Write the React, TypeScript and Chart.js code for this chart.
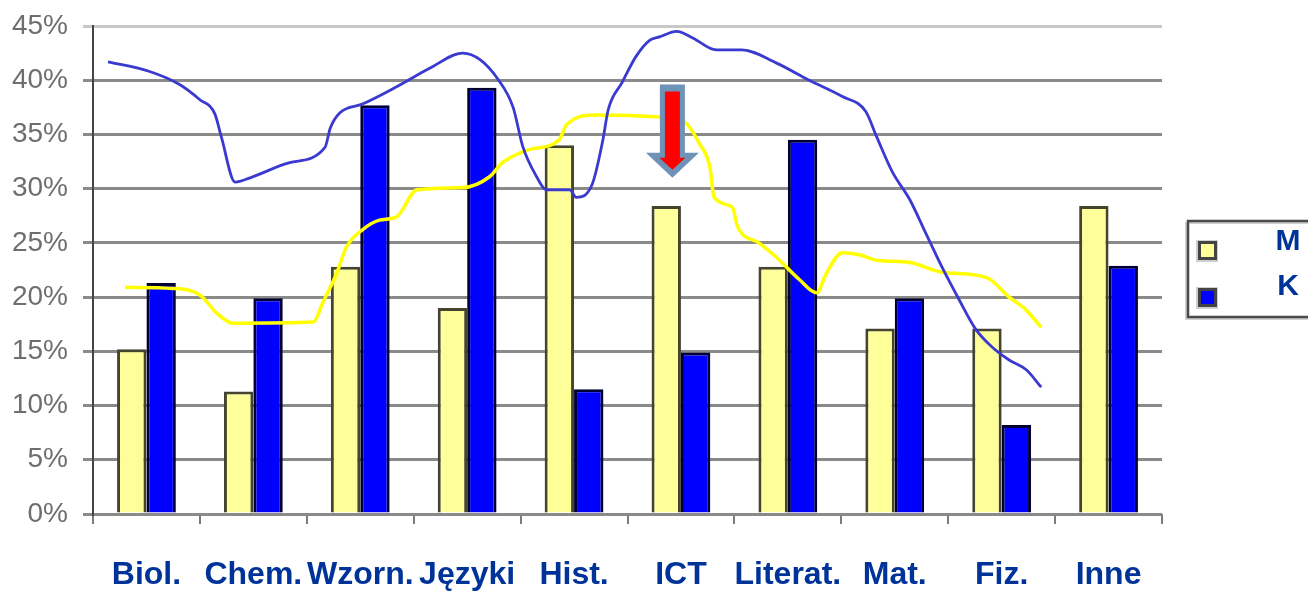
import React, { useEffect, useRef } from 'react';
import { Chart, registerables } from 'chart.js';

Chart.register(...registerables);

// ---- data ----
const CATEGORIES = ['Biol.', 'Chem.', 'Wzorn.', 'Języki', 'Hist.', 'ICT', 'Literat.', 'Mat.', 'Fiz.', 'Inne'];
const SERIES_LABELS = ['M', 'K'];
const SERIES_M = [15.2, 11.3, 22.8, 19.0, 34.0, 28.4, 22.8, 17.1, 17.1, 28.4];
const SERIES_K = [21.3, 19.9, 37.7, 39.3, 11.5, 14.9, 34.5, 19.9, 8.2, 22.9];
const Y_MIN = 0;
const Y_MAX = 45;
const Y_STEP = 5;

// hand-drawn trend curves (x in category units from the left edge, y in %)
const TREND_K_X = [0.14, 0.53, 0.81, 1.0, 1.14, 1.2, 1.33, 1.47, 1.84, 2.17, 2.22, 2.31, 2.52, 2.84, 3.15, 3.46, 3.62, 3.78, 3.93, 4.02, 4.15, 4.24, 4.46, 4.52, 4.67, 4.77, 4.82, 4.95, 5.08, 5.21, 5.3, 5.46, 5.61, 5.83, 6.07, 6.39, 6.7, 7.01, 7.23, 7.33, 7.48, 7.64, 7.79, 7.94, 8.1, 8.26, 8.41, 8.57, 8.73, 8.87];
const TREND_K_Y = [41.7, 40.8, 39.6, 38.2, 36.9, 34.8, 30.6, 31.0, 32.4, 33.8, 35.6, 37.0, 37.8, 39.4, 41.1, 42.5, 41.9, 40.2, 37.5, 33.9, 31.1, 29.9, 29.9, 29.2, 30.4, 34.5, 37.3, 39.8, 42.2, 43.7, 44.0, 44.5, 43.9, 42.8, 42.8, 41.6, 40.0, 38.5, 37.1, 34.8, 31.5, 29.0, 25.9, 22.8, 19.8, 17.0, 15.4, 14.2, 13.3, 11.7];
const TREND_M_X = [0.3, 0.75, 1.0, 1.16, 1.31, 2.06, 2.15, 2.28, 2.37, 2.52, 2.68, 2.84, 3.03, 3.46, 3.71, 3.83, 4.08, 4.36, 4.43, 4.71, 5.3, 5.54, 5.67, 5.77, 5.81, 5.98, 6.03, 6.23, 6.39, 6.61, 6.77, 6.86, 7.01, 7.17, 7.33, 7.64, 7.94, 8.36, 8.57, 8.73, 8.87];
const TREND_M_Y = [20.9, 20.8, 20.2, 18.5, 17.6, 17.7, 19.5, 22.2, 24.6, 26.2, 27.1, 27.4, 29.9, 30.1, 31.1, 32.4, 33.6, 34.5, 35.9, 36.8, 36.6, 36.1, 34.2, 32.0, 29.2, 28.3, 26.5, 25.0, 23.7, 21.6, 20.4, 22.2, 24.1, 23.9, 23.4, 23.2, 22.3, 21.8, 20.0, 18.8, 17.2];

// down arrow annotation (x in category units, y in %)
const ARROW = { x: 5.42, top: 39.6, tip: 31.0 };

const COLOR_M = '#ffff99';
const COLOR_K = '#0000ff';
const LABEL_BLUE = '#003399';
const FONT = "'Liberation Sans', Arial, sans-serif";
const W = 1308;
const H = 591;

const PAD = { top: 26, right: 146, left: 93, bottom: 77 };

const arrowPlugin = {
  id: 'arrowAnnot',
  afterDatasetsDraw(chart: any) {
    const xs = chart.scales.x;
    const ys = chart.scales.y;
    const ctx = chart.ctx;
    const cx = xs.getPixelForValue(ARROW.x);
    const top = ys.getPixelForValue(ARROW.top);
    const tip = ys.getPixelForValue(ARROW.tip);
    const poly = (shaftHalf: number, headHalf: number, t: number, headTop: number, tp: number, color: string) => {
      ctx.beginPath();
      ctx.moveTo(cx - shaftHalf, t);
      ctx.lineTo(cx + shaftHalf, t);
      ctx.lineTo(cx + shaftHalf, headTop);
      ctx.lineTo(cx + headHalf, headTop);
      ctx.lineTo(cx, tp);
      ctx.lineTo(cx - headHalf, headTop);
      ctx.lineTo(cx - shaftHalf, headTop);
      ctx.closePath();
      ctx.fillStyle = color;
      ctx.fill();
    };
    ctx.save();
    poly(12.5, 26.5, top, tip - 25, tip, '#6f93b8');
    poly(7.5, 13, top + 7, tip - 20, tip - 8, '#ff0000');
    ctx.restore();
  },
};

const legendPlugin = {
  id: 'boxLegend',
  afterDraw(chart: any) {
    const ctx = chart.ctx;
    const area = chart.chartArea;
    const left = area.right + 26;
    const top = area.top + 195;
    ctx.save();
    ctx.strokeStyle = '#d0d0d0';
    ctx.lineWidth = 2;
    ctx.strokeRect(left - 2, top + 2, 160, 96);
    ctx.strokeStyle = '#4a4a4a';
    ctx.lineWidth = 2.5;
    ctx.strokeRect(left, top, 160, 96);
    const items = [
      { label: chart.data.datasets[0].label, color: COLOR_M, sy: top + 20, ty: top + 21 },
      { label: chart.data.datasets[1].label, color: COLOR_K, sy: top + 67, ty: top + 66 },
    ];
    items.forEach((it) => {
      ctx.fillStyle = '#cfcfcf';
      ctx.fillRect(left + 8, it.sy - 1, 22, 22);
      ctx.fillStyle = '#444';
      ctx.fillRect(left + 10, it.sy, 19, 19);
      ctx.fillStyle = it.color;
      ctx.fillRect(left + 13, it.sy + 3, 13, 13);
      ctx.fillStyle = LABEL_BLUE;
      ctx.font = `bold 30px ${FONT}`;
      ctx.textAlign = 'center';
      ctx.textBaseline = 'middle';
      ctx.fillText(it.label, left + 100, it.ty);
    });
    ctx.restore();
  },
};

export default function App() {
  const barRef = useRef<HTMLCanvasElement | null>(null);
  const lineRef = useRef<HTMLCanvasElement | null>(null);
  useEffect(() => {
    if (!barRef.current || !lineRef.current) return;
    const barChart = new Chart(barRef.current, {
      type: 'bar',
      data: {
        labels: CATEGORIES,
        datasets: [
          {
            label: SERIES_LABELS[0],
            data: SERIES_M,
            backgroundColor: COLOR_M,
            borderColor: '#45452f',
            borderWidth: 3,
          },
          {
            label: SERIES_LABELS[1],
            data: SERIES_K,
            backgroundColor: COLOR_K,
            borderColor: '#000033',
            borderWidth: 3,
          },
        ],
      },
      options: {
        animation: false,
        responsive: false,
        events: [],
        layout: { padding: { top: PAD.top, right: PAD.right, left: 0, bottom: 0 } },
        plugins: { legend: { display: false }, tooltip: { enabled: false } },
        datasets: { bar: { categoryPercentage: 0.55, barPercentage: 1 } },
        scales: {
          x: {
            type: 'category',
            offset: true,
            grid: {
              offset: true,
              drawOnChartArea: false,
              drawTicks: true,
              tickLength: 10,
              color: '#7a7a7a',
              lineWidth: 2,
            },
            border: { display: false },
            ticks: {
              color: LABEL_BLUE,
              font: { family: FONT, size: 32, weight: 'bold' },
              padding: 32,
              maxRotation: 0,
              autoSkip: false,
            },
            afterFit: (s: any) => {
              s.height = PAD.bottom;
            },
          },
          y: {
            min: Y_MIN,
            max: Y_MAX,
            ticks: {
              stepSize: Y_STEP,
              color: '#6e6e6e',
              font: { family: FONT, size: 28, lineHeight: 0.7 },
              padding: 15,
              callback: (v: any) => `${v}%`,
            },
            grid: {
              color: (c: any) => (c.tick && c.tick.value === Y_MAX ? '#c8c8c8' : '#8a8a8a'),
              lineWidth: 3,
              tickLength: 10,
            },
            border: { display: true, color: '#444', width: 2 },
            afterFit: (s: any) => {
              s.width = PAD.left;
            },
          },
        },
      } as any,
      plugins: [legendPlugin],
    });

    // the trend curves are drawn on an overlay chart that shares the exact plot area
    const ca = barChart.chartArea;
    const lineChart = new Chart(lineRef.current, {
      type: 'line',
      data: {
        datasets: [
          {
            label: 'K',
            data: TREND_K_X.map((x, i) => ({ x, y: TREND_K_Y[i] })),
            borderColor: '#3a3ad0',
            borderWidth: 2.8,
            pointRadius: 0,
            cubicInterpolationMode: 'monotone',
            fill: false,
          },
          {
            label: 'M',
            data: TREND_M_X.map((x, i) => ({ x, y: TREND_M_Y[i] })),
            borderColor: '#ffff00',
            borderWidth: 3.5,
            pointRadius: 0,
            cubicInterpolationMode: 'monotone',
            fill: false,
          },
        ],
      },
      options: {
        animation: false,
        responsive: false,
        events: [],
        layout: {
          padding: { left: ca.left, top: ca.top, right: W - ca.right, bottom: H - ca.bottom },
        },
        plugins: { legend: { display: false }, tooltip: { enabled: false } },
        scales: {
          x: { type: 'linear', display: false, min: 0, max: CATEGORIES.length },
          y: { type: 'linear', display: false, min: Y_MIN, max: Y_MAX },
        },
      } as any,
      plugins: [arrowPlugin],
    });

    return () => {
      barChart.destroy();
      lineChart.destroy();
    };
  }, []);

  return (
    <div style={{ position: 'absolute', left: 0, top: 0, width: W, height: H, background: '#fff' }}>
      <canvas ref={barRef} width={W} height={H} style={{ display: 'block', position: 'absolute', left: 0, top: 0 }} />
      <canvas ref={lineRef} width={W} height={H} style={{ display: 'block', position: 'absolute', left: 0, top: 0 }} />
    </div>
  );
}
